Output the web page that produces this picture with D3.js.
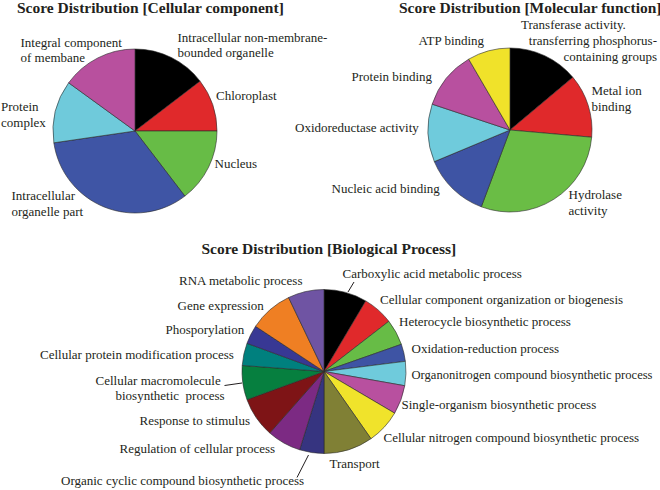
<!DOCTYPE html>
<html>
<head>
<meta charset="utf-8">
<script src="https://cdn.jsdelivr.net/npm/d3@7"></script>
<style>
  html, body { margin: 0; padding: 0; background: #fff; }
  svg { display: block; }
  text { font-family: "Liberation Serif", "Times New Roman", serif; fill: #231f20; }
</style>
</head>
<body>
<svg id="chart" width="660" height="490"></svg>
<script>
// ---------- DATA ----------
const ccCategories = ["Intracellular non-membrane-bounded organelle", "Chloroplast", "Nucleus",
  "Intracellular organelle part", "Protein complex", "Integral component of membane"];
const ccValues = [14.6, 10.4, 14.6, 33.1, 12.3, 15.0];
const ccColors = ["#000000", "#e0292b", "#67bc46", "#3f55a5", "#6fcadb", "#b8509e"];

const mfCategories = ["Transferase activity. transferring phosphorus-containing groups", "Metal ion binding",
  "Hydrolase activity", "Nucleic acid binding", "Oxidoreductase activity", "Protein binding", "ATP binding"];
const mfValues = [13.9, 12.5, 29.3, 13.0, 11.4, 11.5, 8.4];
const mfColors = ["#000000", "#e0292b", "#6abd45", "#3e54a4", "#6fcbdc", "#b8509f", "#f0e22a"];

const bpCategories = ["Carboxylic acid metabolic process", "Cellular component organization or biogenesis",
  "Heterocycle biosynthetic process", "Oxidation-reduction process", "Organonitrogen compound biosynthetic process",
  "Single-organism biosynthetic process", "Cellular nitrogen compound biosynthetic process", "Transport",
  "Organic cyclic compound biosynthetic process", "Regulation of cellular process", "Response to stimulus",
  "Cellular macromolecule biosynthetic  process", "Cellular protein modification process", "Phosporylation",
  "Gene expression", "RNA metabolic process"];
const bpValues = [8.5, 6.0, 5.1, 3.4, 4.75, 5.7, 6.8, 9.7, 4.8, 6.7, 7.9, 6.75, 4.4, 3.7, 8.6, 7.1];
const bpColors = ["#000000", "#e0292b", "#67bc46", "#3e54a4", "#6fcbdc", "#b8509f", "#f0e32b", "#808035",
  "#363480", "#7c2a83", "#7e1416", "#067f3f", "#00807e", "#383894", "#ef7f23", "#6f54a3"];

const titles = ["Score Distribution [Cellular component]", "Score Distribution [Molecular function]",
  "Score Distribution [Biological Process]"];

// ---------- LAYOUT (positions only) ----------
const layout = [
  { cx: 135, cy: 131, r: 82, title: { x: 17, y: 13 },
    labels: [
      { lines: ["Intracellular non-membrane-", "bounded organelle"], x: 177.5, y: 41.5, anchor: "start" },
      { lines: ["Chloroplast"], x: 216, y: 99.5, anchor: "start" },
      { lines: ["Nucleus"], x: 214.5, y: 168, anchor: "start" },
      { lines: ["Intracellular", "organelle part"], x: 11.5, y: 200, anchor: "start" },
      { lines: ["Protein", "complex"], x: 1, y: 111, anchor: "start" },
      { lines: ["Integral component", "of membane"], x: 20.5, y: 46.5, anchor: "start" }
    ], leaders: [] },
  { cx: 510, cy: 130, r: 82, title: { x: 399, y: 13 },
    labels: [
      { lines: ["Transferase activity."], x: 521, y: 28.5, anchor: "start" },
      { lines: ["transferring phosphorus-"], x: 657, y: 45, anchor: "end" },
      { lines: ["containing groups"], x: 657, y: 61, anchor: "end" },
      { lines: ["Metal ion", "binding"], x: 591.5, y: 95, anchor: "start" },
      { lines: ["Hydrolase", "activity"], x: 568.5, y: 199, anchor: "start" },
      { lines: ["Nucleic acid binding"], x: 331.5, y: 193, anchor: "start" },
      { lines: ["Oxidoreductase activity"], x: 295, y: 132, anchor: "start" },
      { lines: ["Protein binding"], x: 351.5, y: 81, anchor: "start" },
      { lines: ["ATP binding"], x: 418.5, y: 45, anchor: "start" }
    ], leaders: [] },
  { cx: 324, cy: 371.5, r: 82, title: { x: 201.5, y: 253.5 },
    labels: [
      { lines: ["Carboxylic acid metabolic process"], x: 342.5, y: 277.5, anchor: "start" },
      { lines: ["Cellular component organization or biogenesis"], x: 380, y: 304, anchor: "start" },
      { lines: ["Heterocycle biosynthetic process"], x: 399, y: 326, anchor: "start" },
      { lines: ["Oxidation-reduction process"], x: 411.5, y: 352.5, anchor: "start" },
      { lines: ["Organonitrogen compound biosynthetic process"], x: 411.5, y: 378.5, anchor: "start", width: 241 },
      { lines: ["Single-organism biosynthetic process"], x: 401.5, y: 408.5, anchor: "start" },
      { lines: ["Cellular nitrogen compound biosynthetic process"], x: 383.5, y: 441.5, anchor: "start" },
      { lines: ["Transport"], x: 329.5, y: 467.5, anchor: "start" },
      { lines: ["Organic cyclic compound biosynthetic process"], x: 61, y: 485, anchor: "start" },
      { lines: ["Regulation of cellular process"], x: 119.5, y: 452.5, anchor: "start" },
      { lines: ["Response to stimulus"], x: 139.5, y: 424.5, anchor: "start" },
      { lines: ["Cellular macromolecule"], x: 95.5, y: 385, anchor: "start" },
      { lines: ["biosynthetic  process"], x: 115.5, y: 400, anchor: "start" },
      { lines: ["Cellular protein modification process"], x: 40, y: 359, anchor: "start" },
      { lines: ["Phosporylation"], x: 165.5, y: 333.5, anchor: "start" },
      { lines: ["Gene expression"], x: 177.5, y: 309.5, anchor: "start" },
      { lines: ["RNA metabolic process"], x: 179, y: 285, anchor: "start" }
    ],
    leaders: [
      [[348, 292], [354, 282]],
      [[224.5, 385.5], [242, 383]],
      [[297, 477.5], [308.5, 455]]
    ] }
];

const datasets = [
  { cats: ccCategories, vals: ccValues, cols: ccColors },
  { cats: mfCategories, vals: mfValues, cols: mfColors },
  { cats: bpCategories, vals: bpValues, cols: bpColors }
];

// ---------- DRAW ----------
const svg = d3.select("#chart");
const LABEL_SIZE = 13.0, LINE_H = 15.5;

datasets.forEach((ds, i) => {
  const L = layout[i];
  const g = svg.append("g");

  g.append("text")
    .attr("x", L.title.x).attr("y", L.title.y)
    .attr("font-size", 15.5).attr("font-weight", "bold")
    .text(titles[i]);

  const pie = d3.pie().sort(null).value(d => d.v);
  const arcs = pie(ds.vals.map((v, k) => ({ v, c: ds.cols[k], name: ds.cats[k] })));
  const arc = d3.arc().innerRadius(0).outerRadius(L.r);

  g.append("g").attr("transform", `translate(${L.cx},${L.cy})`)
    .selectAll("path").data(arcs).join("path")
    .attr("d", arc)
    .attr("fill", d => d.data.c)
    .attr("stroke", "#2a2a2a")
    .attr("stroke-width", 0.6)
    .attr("stroke-linejoin", "round");

  L.labels.forEach(lb => {
    const t = g.append("text")
      .attr("x", lb.x).attr("y", lb.y)
      .attr("font-size", LABEL_SIZE)
      .attr("text-anchor", lb.anchor)
      .attr("xml:space", "preserve")
      .style("white-space", "pre");
    if (lb.width) {
      t.attr("textLength", lb.width).attr("lengthAdjust", "spacingAndGlyphs").text(lb.lines[0]);
    } else {
      lb.lines.forEach((ln, j) => {
        t.append("tspan").attr("x", lb.x).attr("dy", j === 0 ? 0 : LINE_H).text(ln);
      });
    }
  });

  L.leaders.forEach(seg => {
    g.append("line")
      .attr("x1", seg[0][0]).attr("y1", seg[0][1])
      .attr("x2", seg[1][0]).attr("y2", seg[1][1])
      .attr("stroke", "#231f20").attr("stroke-width", 1);
  });
});
</script>
</body>
</html>
